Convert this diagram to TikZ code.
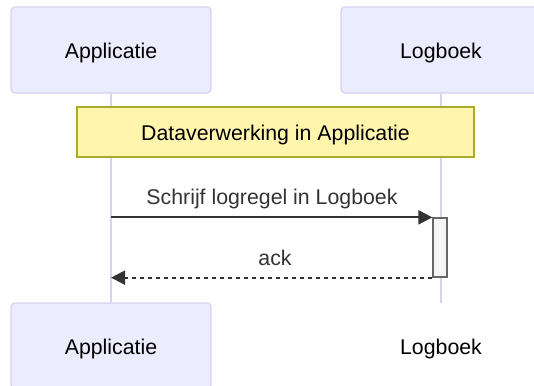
\documentclass[tikz,border=0pt]{standalone}
\usepackage{fontspec}
\setmainfont{Liberation Sans}
\usetikzlibrary{arrows.meta}
\pgfdeclarelayer{bg}
\pgfsetlayers{bg,main}
\definecolor{actfill}{HTML}{ECECFF}
\definecolor{actborder}{HTML}{DAD0F2}
\definecolor{notefill}{HTML}{FFF5AD}
\definecolor{noteborder}{HTML}{AAAA33}
\definecolor{msgcol}{HTML}{333333}
\definecolor{actvfill}{HTML}{F4F4F4}
\definecolor{actvborder}{HTML}{666666}
\begin{document}
\begin{tikzpicture}[x=1pt,y=-1pt,
  txt/.style={inner sep=0pt, text height=17pt, text depth=0pt, font=\fontsize{21.3}{25}\selectfont},
  actor/.style={txt, draw=actborder, fill=actfill, line width=1.3pt, rounded corners=4pt, minimum width=200pt, minimum height=86pt},
  bare/.style={txt},
  notebox/.style={txt, draw=noteborder, fill=notefill, line width=1.3pt, minimum width=397pt, minimum height=50pt},
  actv/.style={draw=actvborder, fill=actvfill, line width=1.3pt, minimum width=14pt, minimum height=59pt, inner sep=0pt},
  lifeline/.style={draw=actborder, line width=2pt},
  msgline/.style={draw=msgcol, line width=2pt, -{Triangle[length=14pt,width=14pt]}, color=msgcol},
  msglabel/.style={txt, text=msgcol}
]
\useasboundingbox (0,0) rectangle (534,385);
\coordinate (lend) at (441,303);
\node[actor] (a1) at (111,50) {Applicatie};
\node[actor] (l1) at (441,50) {Logboek};
\node[actor] (a2) at (111,346) {Applicatie};
\node[bare] (l2) at (441,346) {Logboek};
\begin{pgfonlayer}{bg}
\draw[lifeline] (a1.south) -- (a2.north);
\draw[lifeline] (l1.south) -- (lend);
\end{pgfonlayer}
\node[notebox] (note) at (275.5,132) {Dataverwerking in Applicatie};
\node[actv] (act) at (440,247.5) {};
\draw[msgline] (a1.south |- act.north west) -- (act.north west);
\node[msglabel] (m1) at (272,195.5) {Schrijf logregel in Logboek};
\draw[msgline, dash pattern=on 4pt off 4pt] (act.south west) -- (a1.south |- act.south west);
\node[msglabel] (m2) at (275,256.5) {ack};
\end{tikzpicture}
\end{document}
